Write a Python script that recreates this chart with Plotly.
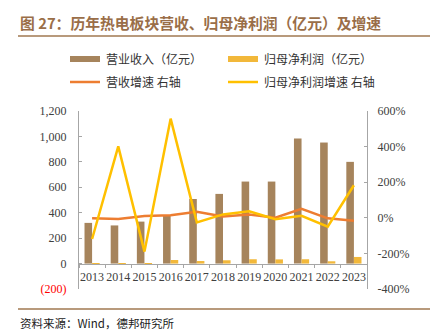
import plotly.graph_objects as go

years = ["2013", "2014", "2015", "2016", "2017", "2018", "2019", "2020", "2021", "2022", "2023"]
revenue = [320, 300, 330, 378, 508, 548, 645, 645, 984, 952, 800]
net_profit = [2, -5, 3, 28, 20, 26, 34, 33, 34, 18, 52]
revenue_growth = [-3, -7, 10, 15, 34, 8, 18, 0, 51, -3, -16]
profit_growth = [-119, 401, -190, 557, -26, 19, 37, -8, 11, -50, 183]

left_ticks = [-200, 0, 200, 400, 600, 800, 1000, 1200]
left_text = ['<span style="color:#ff0000">(200)</span>', "0", "200", "400", "600", "800", "1,000", "1,200"]
right_ticks = [-400, -200, 0, 200, 400, 600]
right_text = ["-400%", "-200%", "0%", "200%", "400%", "600%"]

C_REV = "#a6845c"
C_NP = "#f2b83a"
C_RG = "#ed7d31"
C_PG = "#ffc000"
TITLE_C = "#9a6e48"

W, H = 441, 336
ML, MR, MT, MB = 79, 74, 111, 47
PW, PH = W - ML - MR, H - MT - MB

def px(x):
    return (x - ML) / PW

def py(y):
    return (H - MB - y) / PH

fig = go.Figure()
fig.add_trace(go.Bar(x=years, y=revenue, name="营业收入（亿元）", marker_color=C_REV,
                     marker_line_width=0, offsetgroup="a"))
fig.add_trace(go.Bar(x=years, y=net_profit, name="归母净利润（亿元）", marker_color=C_NP,
                     marker_line_width=0, offsetgroup="b"))
fig.add_trace(go.Scatter(x=years, y=revenue_growth, name="营收增速 右轴", mode="lines",
                         line=dict(color=C_RG, width=2.5), yaxis="y2"))
fig.add_trace(go.Scatter(x=years, y=profit_growth, name="归母净利润增速 右轴", mode="lines",
                         line=dict(color=C_PG, width=2.5), yaxis="y2"))

tickfont = dict(family="Liberation Serif", size=12, color="#404040")

fig.update_layout(
    width=W, height=H,
    margin=dict(l=ML, r=MR, t=MT, b=MB),
    paper_bgcolor="white", plot_bgcolor="white",
    showlegend=False,
    barmode="group", bargap=0.42, bargroupgap=0,
    xaxis=dict(type="category", anchor="free", position=200 / 1400,
               showline=True, linecolor="#a6a6a6", linewidth=1,
               ticks="outside", ticklen=3, tickcolor="#a6a6a6", tickson="boundaries",
               tickangle=0, ticklabelstandoff=2,
               tickfont=tickfont, showgrid=False, zeroline=False),
    yaxis=dict(range=[-200, 1200], tickvals=left_ticks, ticktext=left_text,
               showline=True, linecolor="#a6a6a6", linewidth=1,
               ticks="inside", ticklen=3, tickcolor="#a6a6a6", ticklabelstandoff=9,
               tickfont=tickfont, showgrid=False, zeroline=False),
    yaxis2=dict(range=[-400, 600], tickvals=right_ticks, ticktext=right_text,
                overlaying="y", side="right",
                showline=True, linecolor="#a6a6a6", linewidth=1,
                ticks="inside", ticklen=3, tickcolor="#a6a6a6", ticklabelstandoff=7,
                tickfont=tickfont, showgrid=False, zeroline=False),
)

shapes = []
annotations = []
annotations.append(dict(text="<b>图 27：历年热电板块营收、归母净利润（亿元）及增速</b>",
                        xref="paper", yref="paper", x=px(18), y=py(23),
                        xanchor="left", yanchor="middle", showarrow=False,
                        font=dict(family="Noto Sans CJK SC", size=14.8, color=TITLE_C)))
for yy in (36, 309):
    shapes.append(dict(type="line", xref="paper", yref="paper",
                       x0=px(18), x1=px(430), y0=py(yy), y1=py(yy),
                       line=dict(color="#a07850", width=1.5)))

legend_items = [
    ("rect", C_REV, "营业收入（亿元）", 70, 59),
    ("rect", C_NP, "归母净利润（亿元）", 228, 59),
    ("line", C_RG, "营收增速 右轴", 70, 82),
    ("line", C_PG, "归母净利润增速 右轴", 228, 82),
]
lfont = dict(family="Noto Sans CJK SC", size=12, color="#333333")
for kind, col, label, x0, yc in legend_items:
    if kind == "rect":
        shapes.append(dict(type="rect", xref="paper", yref="paper",
                           x0=px(x0), x1=px(x0 + 30), y0=py(yc + 3), y1=py(yc - 3),
                           fillcolor=col, line=dict(width=0)))
    else:
        shapes.append(dict(type="line", xref="paper", yref="paper",
                           x0=px(x0), x1=px(x0 + 30), y0=py(yc), y1=py(yc),
                           line=dict(color=col, width=2.5)))
    annotations.append(dict(text=label, xref="paper", yref="paper",
                            x=px(x0 + 34), y=py(yc), xanchor="left", yanchor="middle",
                            showarrow=False, font=lfont))

annotations.append(dict(text="资料来源：Wind，德邦研究所", xref="paper", yref="paper",
                        x=px(18), y=py(323), xanchor="left", yanchor="middle",
                        showarrow=False,
                        font=dict(family="Noto Sans CJK SC", size=11.5, color="#222222")))

fig.update_layout(shapes=shapes, annotations=annotations)
fig.write_html("out.html")
